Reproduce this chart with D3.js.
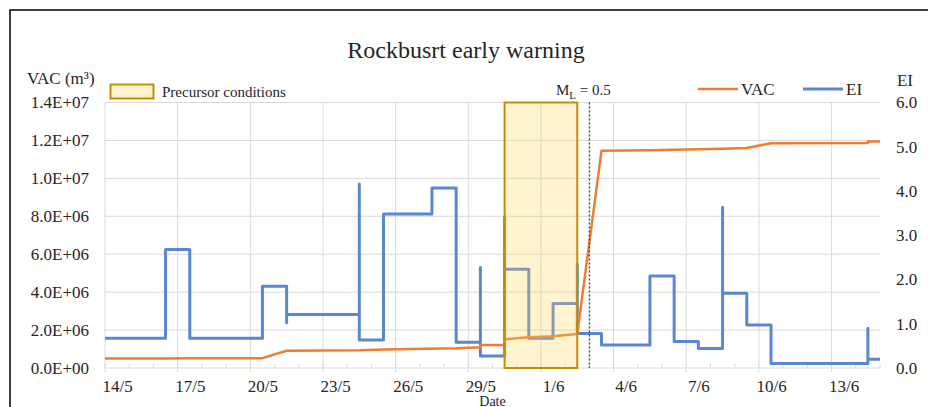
<!DOCTYPE html>
<html>
<head>
<meta charset="utf-8">
<script src="https://cdn.jsdelivr.net/npm/d3@7"></script>
<style>
  body { margin: 0; background: #fff; }
  text { font-family: "Liberation Serif", "Times New Roman", serif; fill: #262626; }
</style>
</head>
<body>
<div id="chart"></div>
<script>
// date range of the x axis (day/month hh:mm)
var xStart = "14/5 00:00", xEnd = "15/6 00:00";
var xTickLabels = ["14/5","17/5","20/5","23/5","26/5","29/5","1/6","4/6","7/6","10/6","13/6"];
var vacTicks = [0, 2e6, 4e6, 6e6, 8e6, 10e6, 12e6, 14e6];
var eiTicks = [0, 1, 2, 3, 4, 5, 6];

// EI, step series (repeated dates = spikes)
var eiDates = ["14/5 00:00","16/5 12:00","17/5 12:00","20/5 12:00","21/5 12:00","21/5 12:00",
  "24/5 12:00","24/5 12:00","25/5 12:00","27/5 12:00","28/5 12:00","29/5 12:00","29/5 12:00",
  "30/5 12:00","30/5 12:00","31/5 12:00","1/6 12:00","2/6 12:00","2/6 12:00","3/6 12:00",
  "5/6 12:00","6/6 12:00","7/6 12:00","8/6 12:00","8/6 12:00","9/6 12:00","10/6 12:00",
  "14/6 12:00","14/6 12:00","15/6 00:00"];
var eiValues = [0.67, 2.68, 0.67, 1.85, 1.02, 1.21,
  4.16, 0.63, 3.48, 4.07, 0.58, 2.27, 0.27,
  3.42, 2.23, 0.67, 1.46, 2.35, 0.78, 0.52,
  2.08, 0.60, 0.44, 3.63, 1.69, 0.97, 0.10,
  0.90, 0.20, 0.20];

// VAC (m3)
var vacDates = ["14/5 00:00","16/5 12:00","17/5 12:00","20/5 12:00","21/5 12:00","24/5 12:00",
  "25/5 12:00","28/5 12:00","29/5 12:00","29/5 12:00","30/5 12:00","30/5 12:00","31/5 12:00",
  "1/6 12:00","2/6 12:00","3/6 12:00","5/6 12:00","8/6 12:00","9/6 12:00","10/6 12:00",
  "14/6 12:00","14/6 12:00","15/6 00:00"];
var vacValues = [0.50e6, 0.50e6, 0.52e6, 0.52e6, 0.91e6, 0.93e6,
  0.98e6, 1.04e6, 1.09e6, 1.21e6, 1.21e6, 1.51e6, 1.62e6,
  1.68e6, 1.79e6, 11.45e6, 11.48e6, 11.56e6, 11.60e6, 11.85e6,
  11.86e6, 11.95e6, 11.95e6];

// precursor window and M_L marker
var precursor = ["30/5 12:00", "2/6 12:00"];
var mlDate = "3/6 00:00";

var W = 928, H = 407;
var padL = 105, padR = 880, plotTop = 102.5, plotBottom = 368;
var parse = d3.timeParse("%d/%m %H:%M");
var parseDay = d3.timeParse("%d/%m");

var svg = d3.select("#chart").append("svg")
    .attr("width", W).attr("height", H);

// outer frame
svg.append("rect")
    .attr("x", 10).attr("y", 10).attr("width", 940).attr("height", 420)
    .style("fill", "none").style("stroke", "#000").style("stroke-width", "1.5px");

var x = d3.scaleTime().domain([parse(xStart), parse(xEnd)]).range([padL, padR]);
var yL = d3.scaleLinear().domain([0, 14e6]).range([plotBottom, plotTop]);
var yR = d3.scaleLinear().domain([0, 6]).range([plotBottom, plotTop]);

function sci(v){
  var s = v.toExponential(1).split("e");
  var e = parseInt(s[1], 10);
  return s[0] + "E" + (e < 0 ? "-" : "+") + (Math.abs(e) < 10 ? "0" : "") + Math.abs(e);
}

// gridlines
svg.append("g").selectAll("line").data(vacTicks).enter().append("line")
    .attr("x1", padL).attr("x2", padR)
    .attr("y1", function(d){return yL(d);}).attr("y2", function(d){return yL(d);})
    .style("stroke", "#d9d9d9").style("stroke-width", "1px");

var days = d3.timeDay.range(parse(xStart), d3.timeDay.offset(parse(xEnd), 1));
var majorDays = days.filter(function(d, i){return i % 3 === 0;});
svg.append("g").selectAll("line").data(majorDays).enter().append("line")
    .attr("x1", function(d){return x(d);}).attr("x2", function(d){return x(d);})
    .attr("y1", plotTop).attr("y2", plotBottom + 4)
    .style("stroke", "#d9d9d9").style("stroke-width", "1px");
svg.append("g").selectAll("line").data(days).enter().append("line")
    .attr("x1", function(d){return x(d);}).attr("x2", function(d){return x(d);})
    .attr("y1", plotBottom - 4).attr("y2", plotBottom)
    .style("stroke", "#d9d9d9").style("stroke-width", "1px");

// axes
var axL = svg.append("g").attr("transform", "translate(" + (padL - 16) + ",0)")
    .call(d3.axisLeft(yL).tickValues(vacTicks).tickFormat(sci).tickSize(0));
var axR = svg.append("g").attr("transform", "translate(" + (padR + 16) + ",0)")
    .call(d3.axisRight(yR).tickValues(eiTicks).tickFormat(d3.format(".1f")).tickSize(0));
var xLabelDates = xTickLabels.map(function(s){return d3.timeHour.offset(parseDay(s), 12);});
var axB = svg.append("g").attr("transform", "translate(0," + (plotBottom + 7) + ")")
    .call(d3.axisBottom(x).tickValues(xLabelDates).tickFormat(function(d, i){return xTickLabels[i];}).tickSize(0));
[axL, axR, axB].forEach(function(a){
  a.select(".domain").remove();
  a.selectAll("text").style("font-family", "Liberation Serif, serif").style("font-size", "17px").attr("fill", "#262626");
});
axL.selectAll("text").attr("x", 0);
axR.selectAll("text").attr("x", 0);
axB.selectAll("text").attr("dy", "0.8em");

// lines
var eiData = eiDates.map(function(d, i){return {date: parse(d), value: eiValues[i]};});
var vacData = vacDates.map(function(d, i){return {date: parse(d), value: vacValues[i]};});

svg.append("path").datum(eiData)
    .attr("d", d3.line().curve(d3.curveStepAfter)
      .x(function(d){return x(d.date);}).y(function(d){return yR(d.value);}))
    .style("fill", "none").style("stroke", "#5B87D0").style("stroke-width", "3px")
    .style("stroke-linejoin", "round");

svg.append("path").datum(vacData)
    .attr("d", d3.line()
      .x(function(d){return x(d.date);}).y(function(d){return yL(d.value);}))
    .style("fill", "none").style("stroke", "#ED7D31").style("stroke-width", "2.5px")
    .style("stroke-linejoin", "round");

// precursor window
var p0 = x(parse(precursor[0])), p1 = x(parse(precursor[1]));
svg.append("rect")
    .attr("x", p0).attr("y", plotTop).attr("width", p1 - p0).attr("height", plotBottom - plotTop)
    .style("fill", "#FFD455").style("fill-opacity", 0.28);
svg.append("rect")
    .attr("x", p0).attr("y", plotTop).attr("width", p1 - p0).attr("height", plotBottom - plotTop)
    .style("fill", "none").style("stroke", "#BF9000").style("stroke-width", "2px");

// M_L line
svg.append("line")
    .attr("x1", x(parse(mlDate))).attr("x2", x(parse(mlDate)))
    .attr("y1", plotTop).attr("y2", plotBottom)
    .style("stroke", "#404040").style("stroke-width", "1.3px").style("stroke-dasharray", "2,2");

var ml = svg.append("text").attr("x", 556).attr("y", 95).style("font-size", "15px");
ml.append("tspan").text("M");
ml.append("tspan").attr("dy", 4).style("font-size", "11px").text("L");
ml.append("tspan").attr("dy", -4).text(" = 0.5");

// titles
svg.append("text").attr("x", 466).attr("y", 58).attr("text-anchor", "middle")
    .style("font-size", "24px").text("Rockbusrt early warning");
svg.append("text").attr("x", 27).attr("y", 84).style("font-size", "17px").text("VAC (m³)");
svg.append("text").attr("x", 905).attr("y", 86).attr("text-anchor", "middle")
    .style("font-size", "17px").text("EI");
svg.append("text").attr("x", (padL + padR) / 2).attr("y", 406).attr("text-anchor", "middle")
    .style("font-size", "14px").text("Date");

// legend
svg.append("rect").attr("x", 110.5).attr("y", 84.5).attr("width", 43).attr("height", 14)
    .style("fill", "#FFF2CC").style("stroke", "#BF9000").style("stroke-width", "2px");
svg.append("text").attr("x", 162).attr("y", 97).style("font-size", "15px").text("Precursor conditions");

var legend = [{name: "VAC", color: "#ED7D31", x: 698, w: 2.5}, {name: "EI", color: "#5B87D0", x: 803, w: 3}];
legend.forEach(function(l){
  svg.append("line").attr("x1", l.x).attr("x2", l.x + 40).attr("y1", 89).attr("y2", 89)
      .style("stroke", l.color).style("stroke-width", l.w + "px");
  svg.append("text").attr("x", l.x + 43).attr("y", 95).style("font-size", "17px").text(l.name);
});
</script>
</body>
</html>
